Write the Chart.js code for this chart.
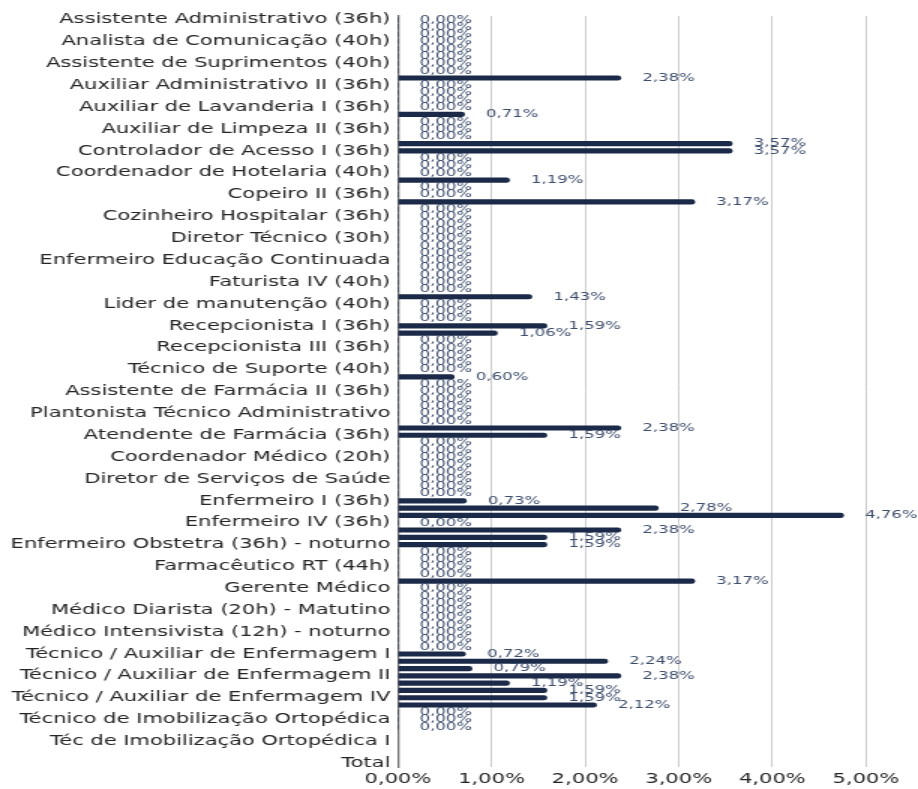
<!DOCTYPE html>
<html>
<head>
<meta charset="utf-8">
<script src="https://cdn.jsdelivr.net/npm/chart.js@4/dist/chart.umd.min.js"></script>
<style>
  html, body { margin: 0; padding: 0; background: #fff; overflow: hidden; }
  /* a imagem original está esticada na horizontal */
  #wrap { width: 612px; height: 789px; transform: scaleX(1.5); transform-origin: 0 0; }
</style>
</head>
<body>
<div id="wrap"><canvas id="grafico"></canvas></div>
<script>
// Só um de cada três cargos aparece no eixo
const cargos = [
  'Assistente Administrativo (36h)', 'Analista de Comunicação (40h)', 'Assistente de Suprimentos (40h)',
  'Auxiliar Administrativo II (36h)', 'Auxiliar de Lavanderia I (36h)', 'Auxiliar de Limpeza II (36h)',
  'Controlador de Acesso I (36h)', 'Coordenador de Hotelaria (40h)', 'Copeiro II (36h)',
  'Cozinheiro Hospitalar (36h)', 'Diretor Técnico (30h)', 'Enfermeiro Educação Continuada',
  'Faturista IV (40h)', 'Lider de manutenção (40h)', 'Recepcionista I (36h)',
  'Recepcionista III (36h)', 'Técnico de Suporte (40h)', 'Assistente de Farmácia II (36h)',
  'Plantonista Técnico Administrativo', 'Atendente de Farmácia (36h)', 'Coordenador Médico (20h)',
  'Diretor de Serviços de Saúde', 'Enfermeiro I (36h)', 'Enfermeiro IV (36h)',
  'Enfermeiro Obstetra (36h) - noturno', 'Farmacêutico RT (44h)', 'Gerente Médico',
  'Médico Diarista (20h) - Matutino', 'Médico Intensivista (12h) - noturno', 'Técnico / Auxiliar de Enfermagem I',
  'Técnico / Auxiliar de Enfermagem II', 'Técnico / Auxiliar de Enfermagem IV', 'Técnico de Imobilização Ortopédica',
  'Téc de Imobilização Ortopédica I', 'Total'
];

// Percentual por linha (103 linhas)
const valores = [
  0, 0, 0, 0, 0, 0, 0, 0, 2.38, 0,
  0, 0, 0, 0.71, 0, 0, 0, 3.57, 3.57, 0,
  0, 0, 1.19, 0, 0, 3.17, 0, 0, 0, 0,
  0, 0, 0, 0, 0, 0, 0, 0, 1.43, 0,
  0, 0, 1.59, 1.06, 0, 0, 0, 0, 0, 0.60,
  0, 0, 0, 0, 0, 0, 2.38, 1.59, 0, 0,
  0, 0, 0, 0, 0, 0, 0.73, 2.78, 4.76, 0,
  2.38, 1.59, 1.59, 0, 0, 0, 0, 3.17, 0, 0,
  0, 0, 0, 0, 0, 0, 0, 0.72, 2.24, 0.79,
  2.38, 1.19, 1.59, 1.59, 2.12, 0, 0, 0, null, null,
  null, null, null
];

const ticksX = [0, 1, 2, 3, 4, 5];

const linhas = valores.map((v, i) => (i % 3 === 0 ? cargos[i / 3] : ''));

function formatar(v) {
  return v.toFixed(2).replace('.', ',') + '%';
}

// Rótulos de valor no fim de cada barra
const rotulos = {
  id: 'rotulos',
  afterDatasetsDraw(chart) {
    const ctx = chart.ctx;
    const meta = chart.getDatasetMeta(0);
    ctx.save();
    ctx.font = '11px "DejaVu Sans"';
    ctx.fillStyle = '#3d4d6c';
    ctx.textAlign = 'left';
    ctx.textBaseline = 'middle';
    meta.data.forEach((barra, i) => {
      const v = valores[i];
      if (v === null) return;
      ctx.fillText(formatar(v), barra.x + 14.5, barra.y);
    });
    ctx.restore();
  }
};

const ctx = document.getElementById('grafico').getContext('2d');
new Chart(ctx, {
  type: 'bar',
  data: {
    labels: linhas,
    datasets: [{
      data: valores,
      backgroundColor: '#1b2a48',
      barThickness: 4.5,
      borderRadius: 2.5
    }]
  },
  options: {
    indexAxis: 'y',
    responsive: true,
    maintainAspectRatio: false,
    animation: false,
    layout: { padding: { top: 16, right: 34.7, bottom: 0, left: 0 } },
    plugins: {
      legend: { display: false },
      tooltip: { enabled: false }
    },
    scales: {
      x: {
        min: 0,
        max: 5,
        afterBuildTicks: (scale) => { scale.ticks = ticksX.map(v => ({ value: v })); },
        afterFit: (scale) => { scale.height = 22; },
        grid: { color: '#cccccc', lineWidth: 1, drawTicks: false },
        border: { display: false },
        ticks: {
          padding: 4,
          color: '#252525',
          font: { family: 'DejaVu Sans', size: 14 },
          callback: (v) => formatar(v)
        }
      },
      y: {
        afterFit: (scale) => { scale.width = 265.3; },
        grid: { display: false, drawTicks: false },
        border: { display: true, color: '#707070', width: 1.3 },
        ticks: {
          autoSkip: false,
          padding: 5,
          color: '#252525',
          font: { family: 'DejaVu Sans', size: 14 }
        }
      }
    }
  },
  plugins: [rotulos]
});
</script>
</body>
</html>
